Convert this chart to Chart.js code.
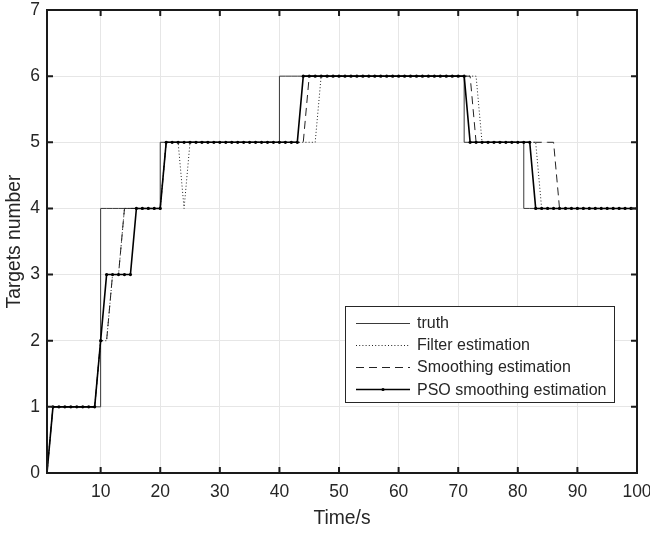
<!DOCTYPE html>
<html>
<head>
<meta charset="utf-8">
<script src="https://cdn.jsdelivr.net/npm/chart.js@4/dist/chart.umd.min.js"></script>
<style>
html,body{margin:0;padding:0;background:#fff;}
#wrap{width:650px;height:534px;position:relative;}
</style>
</head>
<body>
<div id="wrap"><canvas id="c" width="650" height="534"></canvas></div>
<script>
// ---- data ----
const timeSteps = [1,2,3,4,5,6,7,8,9,10,11,12,13,14,15,16,17,18,19,20,21,22,23,24,25,26,27,28,29,30,31,32,33,34,35,36,37,38,39,40,41,42,43,44,45,46,47,48,49,50,51,52,53,54,55,56,57,58,59,60,61,62,63,64,65,66,67,68,69,70,71,72,73,74,75,76,77,78,79,80,81,82,83,84,85,86,87,88,89,90,91,92,93,94,95,96,97,98,99,100];
const truth = [null,1,1,1,1,1,1,1,1,4, 4,4,4,4,4,4,4,4,4,5, 5,5,5,5,5,5,5,5,5,5, 5,5,5,5,5,5,5,5,5,6, 6,6,6,6,6,6,6,6,6,6, 6,6,6,6,6,6,6,6,6,6, 6,6,6,6,6,6,6,6,6,6, 5,5,5,5,5,5,5,5,5,5, 4,4,4,4,4,4,4,4,4,4, 4,4,4,4,4,4,4,4,4,4];
const filterEst = [0,1,1,1,1,1,1,1,1,2, 2,3,3,4,4,4,4,4,4,4, 5,5,5,4,5,5,5,5,5,5, 5,5,5,5,5,5,5,5,5,5, 5,5,5,5,5,5,6,6,6,6, 6,6,6,6,6,6,6,6,6,6, 6,6,6,6,6,6,6,6,6,6, 6,6,6,5,5,5,5,5,5,5, 5,5,5,4,4,4,4,4,4,4, 4,4,4,4,4,4,4,4,4,4];
const smoothingEst = [0,1,1,1,1,1,1,1,1,2, 2,3,3,4,4,4,4,4,4,4, 5,5,5,5,5,5,5,5,5,5, 5,5,5,5,5,5,5,5,5,5, 5,5,5,5,6,6,6,6,6,6, 6,6,6,6,6,6,6,6,6,6, 6,6,6,6,6,6,6,6,6,6, 6,6,5,5,5,5,5,5,5,5, 5,5,5,5,5,5,4,4,4,4, 4,4,4,4,4,4,4,4,4,4];
const psoEst = [0,1,1,1,1,1,1,1,1,2, 3,3,3,3,3,4,4,4,4,4, 5,5,5,5,5,5,5,5,5,5, 5,5,5,5,5,5,5,5,5,5, 5,5,5,6,6,6,6,6,6,6, 6,6,6,6,6,6,6,6,6,6, 6,6,6,6,6,6,6,6,6,6, 6,5,5,5,5,5,5,5,5,5, 5,5,4,4,4,4,4,4,4,4, 4,4,4,4,4,4,4,4,4,4];
const seriesLabels = ['truth','Filter estimation','Smoothing estimation','PSO smoothing estimation'];
const xTickValues = [10,20,30,40,50,60,70,80,90,100];
const yTickValues = [0,1,2,3,4,5,6,7];
const xTitle = 'Time/s';
const yTitle = 'Targets number';

const FONT = '"Liberation Sans", Arial, Helvetica, sans-serif';
const TXT = '#262626';

function pts(arr){ return timeSteps.map((t,i)=>({x:t,y:arr[i]})); }

const datasets = [
  {label:seriesLabels[0], data:pts(truth), borderColor:'#3a3a3a', borderWidth:1, stepped:'before', pointRadius:0, order:3},
  {label:seriesLabels[1], data:pts(filterEst), borderColor:'#222', borderWidth:1, borderDash:[1,2.2], pointRadius:0, order:2},
  {label:seriesLabels[2], data:pts(smoothingEst), borderColor:'#222', borderWidth:1, borderDash:[8,5], pointRadius:0, order:1},
  {label:seriesLabels[3], data:pts(psoEst), borderColor:'#000', borderWidth:1.6, pointRadius:1.6, pointBackgroundColor:'#000', pointBorderColor:'#000', pointBorderWidth:0, order:0}
];

const framePlugin = {
  id:'frame',
  afterDraw(chart){
    const ctx = chart.ctx, a = chart.chartArea;
    const xs = chart.scales.x, ys = chart.scales.y;
    ctx.save();
    ctx.strokeStyle = '#1a1a1a';
    ctx.lineWidth = 2;
    ctx.strokeRect(a.left, a.top, a.right - a.left, a.bottom - a.top);
    const tl = 6;
    ctx.beginPath();
    xTickValues.forEach(v=>{
      const px = xs.getPixelForValue(v);
      ctx.moveTo(px, a.bottom); ctx.lineTo(px, a.bottom - tl);
      ctx.moveTo(px, a.top); ctx.lineTo(px, a.top + tl);
    });
    yTickValues.forEach(v=>{
      const py = ys.getPixelForValue(v);
      ctx.moveTo(a.left, py); ctx.lineTo(a.left + tl, py);
      ctx.moveTo(a.right, py); ctx.lineTo(a.right - tl, py);
    });
    ctx.stroke();

    // legend
    const bx = 345, by = 306, bw = 269, bh = 96;
    ctx.fillStyle = '#fff';
    ctx.fillRect(bx, by, bw, bh);
    ctx.strokeStyle = '#262626';
    ctx.lineWidth = 1;
    ctx.strokeRect(bx + 0.5, by + 0.5, bw, bh);
    const rows = [322.7, 344.5, 366.8, 389.3];
    ctx.font = '16px ' + FONT;
    ctx.textBaseline = 'middle';
    ctx.textAlign = 'left';
    chart.data.datasets.forEach((ds,i)=>{
      const y = Math.round(rows[i]) + 0.5;
      ctx.save();
      ctx.strokeStyle = ds.borderColor;
      ctx.lineWidth = ds.borderWidth;
      ctx.setLineDash(ds.borderDash || []);
      ctx.beginPath(); ctx.moveTo(356, y); ctx.lineTo(410, y); ctx.stroke();
      if (ds.pointRadius) {
        ctx.fillStyle = ds.pointBackgroundColor;
        ctx.beginPath(); ctx.arc(383, y, ds.pointRadius, 0, Math.PI*2); ctx.fill();
      }
      ctx.restore();
      ctx.fillStyle = TXT;
      ctx.fillText(ds.label, 417, rows[i] + 1);
    });
    ctx.restore();
  }
};

new Chart(document.getElementById('c'), {
  type:'line',
  data:{datasets},
  options:{
    responsive:false,
    animation:false,
    devicePixelRatio:1,
    layout:{padding:{left:0, right:13, top:10, bottom:0}},
    plugins:{legend:{display:false}, tooltip:{enabled:false}},
    elements:{line:{tension:0}},
    scales:{
      x:{
        type:'linear', min:1, max:100,
        afterBuildTicks(s){ s.ticks = xTickValues.map(v=>({value:v})); },
        afterFit(s){ s.height = 61; s.paddingLeft = 0; s.paddingRight = 0; },
        grid:{color:'#e6e6e6', lineWidth:1, drawTicks:false},
        border:{display:false},
        ticks:{padding:9, color:TXT, font:{family:FONT, size:17.5}, maxRotation:0, autoSkip:false},
        title:{display:true, text:xTitle, color:TXT, font:{family:FONT, size:19.3}, padding:{top:0, bottom:4}}
      },
      y:{
        type:'linear', min:0, max:7,
        afterBuildTicks(s){ s.ticks = yTickValues.map(v=>({value:v})); },
        afterFit(s){ s.width = 47; s.paddingTop = 0; s.paddingBottom = 0; },
        grid:{color:'#e6e6e6', lineWidth:1, drawTicks:false},
        border:{display:false},
        ticks:{padding:7, color:TXT, font:{family:FONT, size:17.5}},
        title:{display:true, text:yTitle, color:TXT, font:{family:FONT, size:19.3}, padding:{top:3, bottom:0}}
      }
    }
  },
  plugins:[framePlugin]
});
</script>
</body>
</html>
